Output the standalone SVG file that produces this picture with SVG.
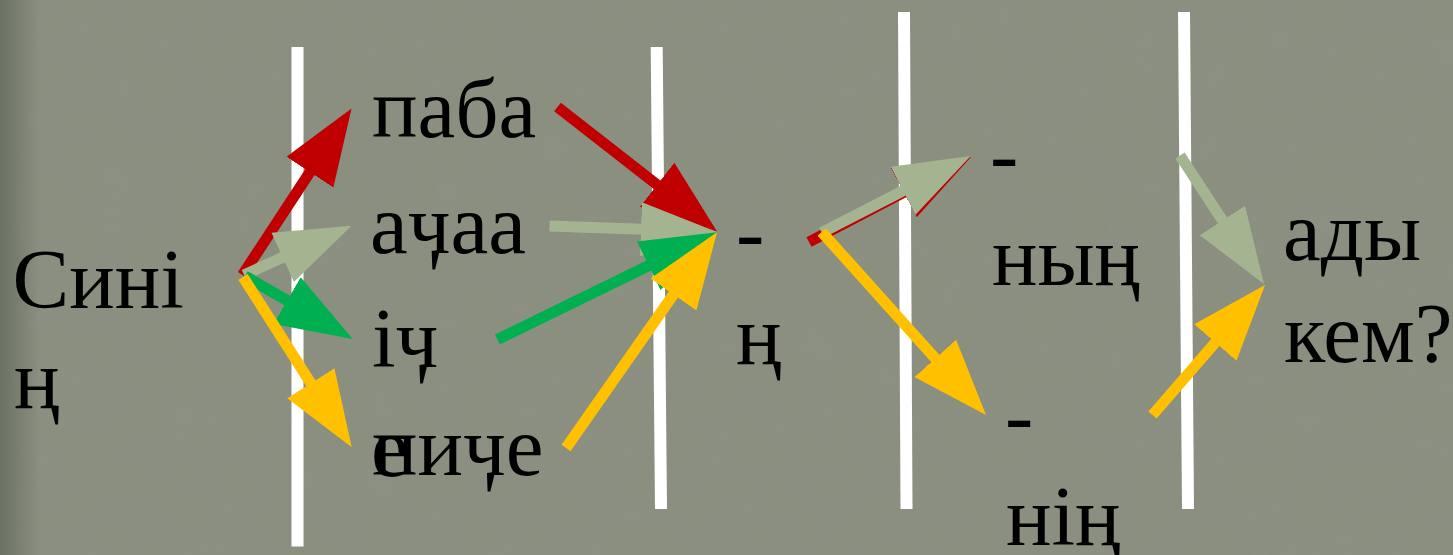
<svg xmlns="http://www.w3.org/2000/svg" width="1453" height="555" viewBox="0 0 1453 555">
<style>
text{font-family:"Liberation Serif","DejaVu Serif",serif;font-size:85px;fill:#000}
.bar{stroke:#fff;stroke-width:12;stroke-linecap:butt}
.sh{fill:none;stroke-width:11;stroke-linecap:butt}
.r{stroke:#C00000}.s{stroke:#A4B491}.g{stroke:#00B050}.y{stroke:#FFC000}
</style>
<defs>
<filter id="tex" x="0" y="0" width="100%" height="100%">
<feTurbulence type="fractalNoise" baseFrequency="0.03" numOctaves="4" seed="3" result="n"/>
<feColorMatrix in="n" type="matrix" values="0 0 0 0 0.3  0 0 0 0 0.32  0 0 0 0 0.28  0 0 0 -0.9 0.55"/>
</filter>
<linearGradient id="edge" x1="0" y1="0" x2="1" y2="0">
<stop offset="0" stop-color="#5f6656" stop-opacity="0.7"/>
<stop offset="1" stop-color="#5f6656" stop-opacity="0"/>
</linearGradient>
<marker id="hr" markerUnits="userSpaceOnUse" markerWidth="80" markerHeight="60" viewBox="0 -30 80 60" refX="2" refY="0" orient="auto"><path d="M0,-28 L76,0 L0,28 Z" fill="#C00000"/></marker>
<marker id="hs" markerUnits="userSpaceOnUse" markerWidth="80" markerHeight="60" viewBox="0 -30 80 60" refX="2" refY="0" orient="auto"><path d="M0,-27 L76,0 L0,27 Z" fill="#A4B491"/></marker>
<marker id="hg" markerUnits="userSpaceOnUse" markerWidth="80" markerHeight="60" viewBox="0 -30 80 60" refX="2" refY="0" orient="auto"><path d="M0,-27 L76,0 L0,27 Z" fill="#00B050"/></marker>
<marker id="hy" markerUnits="userSpaceOnUse" markerWidth="80" markerHeight="60" viewBox="0 -30 80 60" refX="2" refY="0" orient="auto"><path d="M0,-28 L76,0 L0,28 Z" fill="#FFC000"/></marker>
</defs>
<rect width="1453" height="555" fill="#8A8F80"/>
<rect width="1453" height="555" filter="url(#tex)" opacity="0.35"/>
<rect width="40" height="555" fill="url(#edge)"/>
<g id="dividers">
<line class="bar" x1="297.5" y1="47" x2="297.5" y2="546.5"/>
<line class="bar" x1="656.7" y1="47" x2="661" y2="509"/>
<line class="bar" x1="904" y1="12" x2="906.5" y2="509"/>
<line class="bar" x1="1184" y1="12" x2="1188" y2="509"/>
</g>
<g id="n-sinin"><text x="12.5" y="308">Сині</text><text x="14" y="408">ң</text></g>
<g id="n-paba"><text x="372" y="137">паба</text></g>
<g id="n-achaa"><text x="370" y="253">аӌаа</text></g>
<g id="n-iche"><text x="372" y="367">іӌ</text><text x="371" y="476">е</text></g>
<g id="n-piche"><text x="372" y="475">пиӌе</text></g>
<g id="n-ng"><text x="736" y="261">-</text><text x="736" y="364">ң</text></g>
<g id="n-nyng"><text x="990" y="183">-</text><text x="992" y="285">ның</text></g>
<g id="n-ning"><text x="1005" y="444">-</text><text x="1006" y="545">нің</text></g>
<g id="n-ady"><text x="1283" y="260">ады</text><text x="1284" y="362">кем?</text></g>
<g id="connectors">
<line class="sh r" x1="242.5" y1="275" x2="311" y2="170.4" marker-end="url(#hr)"/>
<line class="sh s" x1="244" y1="275" x2="284.4" y2="256.5" marker-end="url(#hs)"/>
<line class="sh g" x1="245" y1="276" x2="288.8" y2="301.6" marker-end="url(#hg)"/>
<line class="sh y" x1="243" y1="277" x2="311.9" y2="384.9" marker-end="url(#hy)"/>
<line class="sh r" x1="557.5" y1="107" x2="658.7" y2="186" marker-end="url(#hr)"/>
<line class="sh s" x1="549.5" y1="226" x2="643" y2="229.35" marker-end="url(#hs)"/>
<line class="sh g" x1="497.5" y1="339.5" x2="650.5" y2="264.8" marker-end="url(#hg)"/>
<line class="sh y" x1="566" y1="448" x2="674.6" y2="292.9" marker-end="url(#hy)"/>
<line class="sh r" x1="809" y1="242" x2="905.5" y2="191.4" marker-end="url(#hr)"/>
<line class="sh s" x1="821.7" y1="232.7" x2="904.9" y2="189.9" marker-end="url(#hs)"/>
<line class="sh y" x1="821.7" y1="232" x2="936.6" y2="359.9" marker-end="url(#hy)"/>
<line class="sh s" x1="1180" y1="155.5" x2="1223.5" y2="222.1" marker-end="url(#hs)"/>
<line class="sh y" x1="1152.5" y1="415" x2="1216.6" y2="341" marker-end="url(#hy)"/>
</g>
</svg>
